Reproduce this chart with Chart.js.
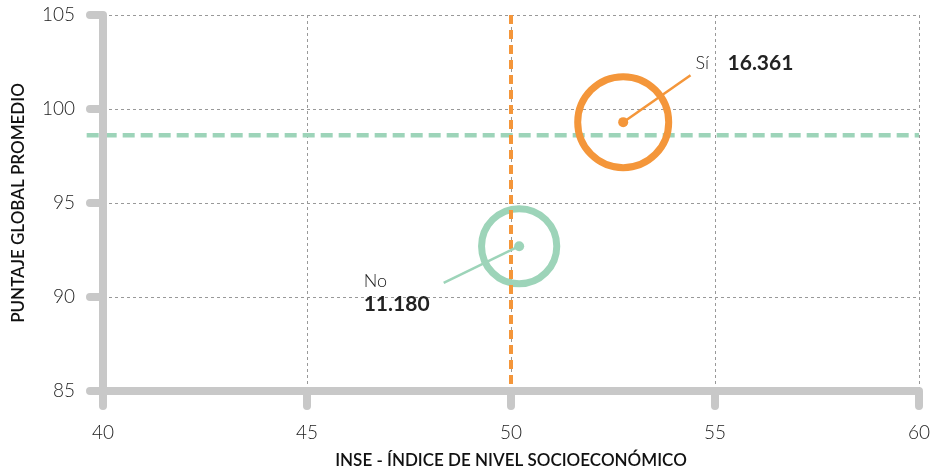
<!DOCTYPE html>
<html>
<head>
    <meta charset="utf-8">
    <title>Puntaje global vs INSE</title>
    <style>
        body { margin: 0; background: #ffffff; }
        .chart-container { width: 935px; height: 473px; }
    </style>
</head>
<body>
    <div class="chart-container"><canvas id="inseChart"></canvas></div>

    <script src="https://cdn.jsdelivr.net/npm/chart.js"></script>
    <script>
        // data
        const groups = ['Sí', 'No'];
        const counts = ['16.361', '11.180'];
        const inse = [52.75, 50.2];
        const puntaje = [99.3, 92.7];
        const labelX = [54.4, 48.35];   // end of the leader line
        const labelY = [101.8, 90.75];
        const meanInse = 50.0;
        const meanPuntaje = 98.6;
        const xTicks = [40, 45, 50, 55, 60];
        const yTicks = [85, 90, 95, 100, 105];

        const orange = '#F4963A';
        const green = '#9DD4B9';
        const axisGrey = '#C8C8C8';
        const colors = [orange, green];

        // bubble size from the count
        const radii = counts.map(c => 0.3557 * Math.sqrt(parseFloat(c.replace('.', ''))));

        const axesPlugin = {
            id: 'axesPlugin',
            afterDatasetsDraw(chart) {
                const ctx = chart.ctx;
                const xs = chart.scales.x, ys = chart.scales.y;
                const x0 = xs.getPixelForValue(40), x1 = xs.getPixelForValue(60);
                const y0 = ys.getPixelForValue(85), y1 = ys.getPixelForValue(105);
                ctx.save();
                ctx.strokeStyle = axisGrey;
                ctx.lineWidth = 8;
                ctx.lineCap = 'round';
                ctx.beginPath();
                ctx.moveTo(x0, y1); ctx.lineTo(x0, y0 + 15);
                ctx.moveTo(x0 - 13, y0); ctx.lineTo(x1, y0);
                xTicks.forEach(v => {
                    const px = xs.getPixelForValue(v);
                    ctx.moveTo(px, y0); ctx.lineTo(px, y0 + 15);
                });
                yTicks.forEach(v => {
                    const py = ys.getPixelForValue(v);
                    ctx.moveTo(x0 - 13, py); ctx.lineTo(x0, py);
                });
                ctx.stroke();

                // labels at the end of the leader lines
                ctx.fillStyle = '#222';
                ctx.textBaseline = 'middle';
                groups.forEach((g, i) => {
                    const px = xs.getPixelForValue(labelX[i]);
                    const py = ys.getPixelForValue(labelY[i]);
                    if (i === 0) {
                        ctx.font = '300 18px Lato';
                        ctx.fillText(g, px + 5, py - 12);
                        ctx.font = 'bold 21px Lato';
                        ctx.fillText(counts[i], px + 37, py - 12);
                    } else {
                        ctx.font = '300 18px Lato';
                        ctx.fillText(g, px - 80, py - 2);
                        ctx.font = 'bold 21px Lato';
                        ctx.fillText(counts[i], px - 80, py + 21);
                    }
                });
                ctx.restore();
            }
        };

        const datasets = [
            {
                data: [{ x: 39.6, y: meanPuntaje }, { x: 60, y: meanPuntaje }],
                showLine: true, borderColor: green, borderWidth: 4.5,
                borderDash: [12, 6], pointRadius: 0, clip: false, order: 6
            },
            {
                data: inse.map((x, i) => ({ x, y: puntaje[i] })),
                pointRadius: radii, pointBorderWidth: 7,
                pointBorderColor: colors, pointBackgroundColor: 'rgba(0,0,0,0)',
                pointHoverRadius: radii, order: 5
            },
            {
                data: [{ x: meanInse, y: 105 }, { x: meanInse, y: 85 }],
                showLine: true, borderColor: orange, borderWidth: 4,
                borderDash: [9, 6], pointRadius: 0, order: 4
            },
            ...inse.map((x, i) => ({
                data: [{ x, y: puntaje[i] }, { x: labelX[i], y: labelY[i] }],
                showLine: true, borderColor: colors[i], borderWidth: 2.5,
                pointRadius: 0, order: 2
            })),
            {
                data: inse.map((x, i) => ({ x, y: puntaje[i] })),
                pointRadius: 5, pointBackgroundColor: colors, pointBorderWidth: 0,
                order: 1
            }
        ];

        new Chart(document.getElementById('inseChart'), {
            type: 'scatter',
            data: { datasets },
            options: {
                responsive: true,
                maintainAspectRatio: false,
                animation: false,
                layout: { autoPadding: false, padding: { top: 15, right: 16, left: 0, bottom: 0 } },
                plugins: { legend: { display: false }, tooltip: { enabled: false } },
                scales: {
                    x: {
                        min: 40, max: 60,
                        afterFit: s => { s.height = 82; s.paddingLeft = 0; s.paddingRight = 0; },
                        afterBuildTicks: s => { s.ticks = xTicks.map(v => ({ value: v })); },
                        border: { display: false, dash: [3, 3] },
                        grid: { color: '#999', lineWidth: 1, drawTicks: false },
                        ticks: { padding: 30, color: '#222', font: { family: 'Lato', size: 19, weight: '300' } },
                        title: {
                            display: true, text: 'INSE - ÍNDICE DE NIVEL SOCIOECONÓMICO', color: '#111',
                            font: { family: 'Lato', size: 17, weight: '600' }, padding: { top: 0, bottom: 2 }
                        }
                    },
                    y: {
                        min: 85, max: 105,
                        afterFit: s => { s.width = 103; s.paddingTop = 0; s.paddingBottom = 0; },
                        afterBuildTicks: s => { s.ticks = yTicks.map(v => ({ value: v })); },
                        border: { display: false, dash: [3, 3] },
                        grid: { color: '#999', lineWidth: 1, drawTicks: false },
                        ticks: { padding: 28, color: '#222', font: { family: 'Lato', size: 19, weight: '300' } },
                        title: {
                            display: true, text: 'PUNTAJE GLOBAL PROMEDIO', color: '#111',
                            font: { family: 'Lato', size: 17, weight: '600' }, padding: { top: 8, bottom: 0 }
                        }
                    }
                }
            },
            plugins: [axesPlugin]
        });
    </script>
</body>
</html>
